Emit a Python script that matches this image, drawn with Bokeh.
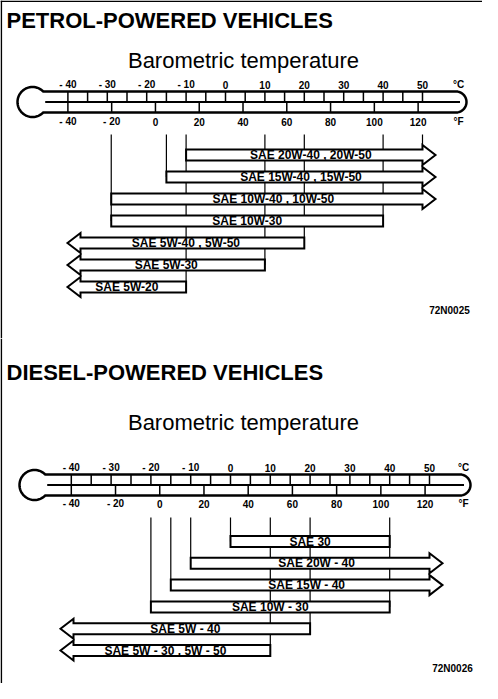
import math
from bokeh.plotting import figure
from bokeh.models import Range1d
from bokeh.layouts import column
from bokeh.core.properties import value
from bokeh.embed import file_html
from bokeh.resources import INLINE

# ---------------- data ----------------
celsius_ticks = [-40, -30, -20, -10, 0, 10, 20, 30, 40, 50]
fahrenheit_ticks = [-40, -20, 0, 20, 40, 60, 80, 100, 120]

petrol_title = "PETROL-POWERED VEHICLES"
petrol_grades = ["SAE 20W-40 , 20W-50", "SAE 15W-40 , 15W-50", "SAE 10W-40 , 10W-50",
                 "SAE 10W-30", "SAE 5W-40 , 5W-50", "SAE 5W-30", "SAE 5W-20"]
petrol_min_c = [-10, -15, -29, -29, None, None, None]   # None = open (arrow to the left)
petrol_max_c = [None, None, None, 40, 20, 10, -10]      # None = open (arrow to the right)
petrol_code = "72N0025"

diesel_title = "DIESEL-POWERED VEHICLES"
diesel_grades = ["SAE 30", "SAE 20W - 40", "SAE 15W - 40", "SAE 10W - 30",
                 "SAE 5W - 40", "SAE 5W - 30 , 5W - 50"]
diesel_min_c = [0, -10, -15, -20, None, None]
diesel_max_c = [40, None, None, 40, 20, 10]
diesel_code = "72N0026"

subtitle = "Barometric temperature"

FONT = "Liberation Sans"
W = 482


def f_to_c(f):
    return (f - 32.0) * 5.0 / 9.0


def section(height, s, title, grades, mins, maxs, code, frame_top):
    zero, ppc = s["zero"], s["ppc"]

    def X(px):
        return (px - zero) / ppc

    p = figure(width=W, height=height, output_backend="svg", toolbar_location=None,
               x_range=Range1d(X(0), X(W)), y_range=Range1d(height, 0),
               x_axis_location=None, y_axis_location=None, min_border=0,
               background_fill_color="white", border_fill_color="white")
    p.outline_line_color = None
    p.grid.visible = False

    # frame
    p.line([X(0.8), X(0.8)], [0, height], line_color="black", line_width=1.6)
    if frame_top:
        p.line([X(0), X(W)], [0.8, 0.8], line_color="black", line_width=1.6)

    # titles
    p.text([X(6)], [s["title_y"]], text=[title], text_font=value(FONT), text_font_style="bold",
           text_font_size="22px", text_baseline="middle", text_align="left", text_color="black")
    p.text([X(243)], [s["baro_y"]], text=[subtitle], text_font=value(FONT),
           text_font_size="22px", text_baseline="middle", text_align="center", text_color="black")

    # thermometer outline
    cx, cy, rb = s["bulb_x"], (s["tube_top"] + s["tube_bot"]) / 2.0, s["bulb_r"]
    th = (s["tube_bot"] - s["tube_top"]) / 2.0
    dx = math.sqrt(rb * rb - th * th)
    cap_c = s["tube_end"] - th
    xs = [cx + dx, cap_c]
    ys = [cy - th, cy - th]
    for k in range(1, 24):
        a = -math.pi / 2 + math.pi * k / 24
        xs.append(cap_c + th * math.cos(a))
        ys.append(cy + th * math.sin(a))
    xs += [cap_c, cx + dx]
    ys += [cy + th, cy + th]
    a0 = math.atan2(th, dx)
    a1 = 2 * math.pi - a0
    for k in range(1, 48):
        a = a0 + (a1 - a0) * k / 48
        xs.append(cx + rb * math.cos(a))
        ys.append(cy + rb * math.sin(a))
    p.patch([X(v) for v in xs], ys, fill_color="white", line_color="black", line_width=2.5)

    merc_y = s["tube_top"] + th
    p.line([X(cx + dx + 2), X(cap_c + 4)], [merc_y, merc_y], line_color="black", line_width=2)

    # celsius ticks (every 5 degrees) in the upper half of the tube
    c_minor = []
    for i in range(len(celsius_ticks) - 1):
        c_minor.append((celsius_ticks[i] + celsius_ticks[i + 1]) / 2.0)
    c_all = celsius_ticks + c_minor
    p.segment(x0=c_all, y0=[s["tube_top"]] * len(c_all), x1=c_all, y1=[merc_y] * len(c_all),
              line_color="black", line_width=1.5)
    f_c = [f_to_c(f) for f in fahrenheit_ticks]
    p.segment(x0=f_c, y0=[merc_y] * len(f_c), x1=f_c, y1=[s["tube_bot"]] * len(f_c),
              line_color="black", line_width=1.5)

    p.text(celsius_ticks, [s["c_lab_y"]] * len(celsius_ticks),
           text=[str(c).replace("-", "- ") if c < 0 else str(c) for c in celsius_ticks],
           text_font=value(FONT), text_font_style="bold", text_font_size="10px",
           text_align="center", text_baseline="middle", text_color="black")
    p.text(f_c, [s["f_lab_y"]] * len(f_c),
           text=[str(f).replace("-", "- ") if f < 0 else str(f) for f in fahrenheit_ticks],
           text_font=value(FONT), text_font_style="bold", text_font_size="10px",
           text_align="center", text_baseline="middle", text_color="black")
    p.text([X(s["unit_x"])], [s["c_lab_y"]], text=["°C"], text_font=value(FONT),
           text_font_style="bold", text_font_size="10px", text_align="center",
           text_baseline="middle", text_color="black")
    p.text([X(s["unit_x"])], [s["f_lab_y"]], text=["°F"], text_font=value(FONT),
           text_font_style="bold", text_font_size="10px", text_align="center",
           text_baseline="middle", text_color="black")

    # rows
    n = len(grades)
    yc = [s["row0"] + i * s["step"] for i in range(n)]
    hh = s["bar_h"] / 2.0
    head_half = s["head_half"]
    head_len = s["head_len"] / ppc
    body_end = s["body_end"]
    tip_left = X(s["tip_left"])

    # guide lines: from guide top down to lowest row that uses the boundary
    bounds = {}
    for i in range(n):
        for v in (mins[i], maxs[i]):
            if v is not None:
                bounds[v] = max(bounds.get(v, 0), i)
    if s["arrow_guide"]:
        last = max(i for i in range(n) if maxs[i] is None)
        bounds[body_end] = last
    gx = list(bounds.keys())
    gy1 = [yc[bounds[v]] for v in gx]
    p.segment(x0=gx, y0=[s["guide_top"]] * len(gx), x1=gx, y1=gy1,
              line_color="black", line_width=1.2)

    bxs, bys, lx = [], [], []
    for i in range(n):
        y0, y1 = yc[i] - hh, yc[i] + hh
        if mins[i] is None:
            bl = tip_left + head_len
            left_x = [bl, tip_left, bl]
            left_y = [y1 + (head_half - hh), yc[i], y0 - (head_half - hh)]
            lo_vis = tip_left
        else:
            left_x = [mins[i]]
            left_y = [y0]
            lo_vis = mins[i]
        if maxs[i] is None:
            right_x = [body_end, body_end, body_end + head_len, body_end, body_end]
            right_y = [y0, yc[i] - head_half, yc[i], yc[i] + head_half, y1]
            hi_vis = body_end + head_len
        else:
            right_x = [maxs[i], maxs[i]]
            right_y = [y0, y1]
            hi_vis = maxs[i]
        if mins[i] is None:
            xs_ = [left_x[2]] + right_x + [left_x[0]] + left_x
            ys_ = [y0] + right_y + [y1] + left_y
        else:
            xs_ = left_x + right_x + [mins[i]]
            ys_ = left_y + right_y + [y1]
        bxs.append(xs_)
        bys.append(ys_)
        lx.append((lo_vis + hi_vis) / 2.0)
    p.patches(bxs, bys, fill_color="white", line_color="black", line_width=2,
              line_join="miter")
    p.text(lx, yc, text=grades, text_font=value(FONT), text_font_style="bold",
           text_font_size="12px", text_align="center", text_baseline="middle",
           text_color="black")

    p.text([X(s["code_x"])], [s["code_y"]], text=[code], text_font=value(FONT),
           text_font_style="bold", text_font_size="10px", text_align="center",
           text_baseline="middle", text_color="black")
    return p


petrol_style = dict(zero=225, ppc=3.94, title_y=20, baro_y=60, c_lab_y=84, tube_top=91,
                    tube_bot=112, f_lab_y=121, bulb_x=32, bulb_r=15, tube_end=466,
                    unit_x=458, guide_top=134, row0=154.5, step=22, bar_h=11, head_half=10,
                    head_len=13, body_end=50, tip_left=67, arrow_guide=True,
                    code_x=449, code_y=310)
diesel_style = dict(zero=230, ppc=3.98, title_y=34, baro_y=84, c_lab_y=129, tube_top=136,
                    tube_bot=157, f_lab_y=165, bulb_x=34, bulb_r=15, tube_end=470,
                    unit_x=463, guide_top=179, row0=203, step=21.8, bar_h=11, head_half=10,
                    head_len=13, body_end=50, tip_left=60, arrow_guide=False,
                    code_x=452, code_y=330)

p1 = section(338, petrol_style, petrol_title, petrol_grades, petrol_min_c, petrol_max_c,
             petrol_code, True)
p2 = section(345, diesel_style, diesel_title, diesel_grades, diesel_min_c, diesel_max_c,
             diesel_code, False)

layout = column(p1, p2, spacing=0)
open("out.html", "w").write(file_html(layout, INLINE))
